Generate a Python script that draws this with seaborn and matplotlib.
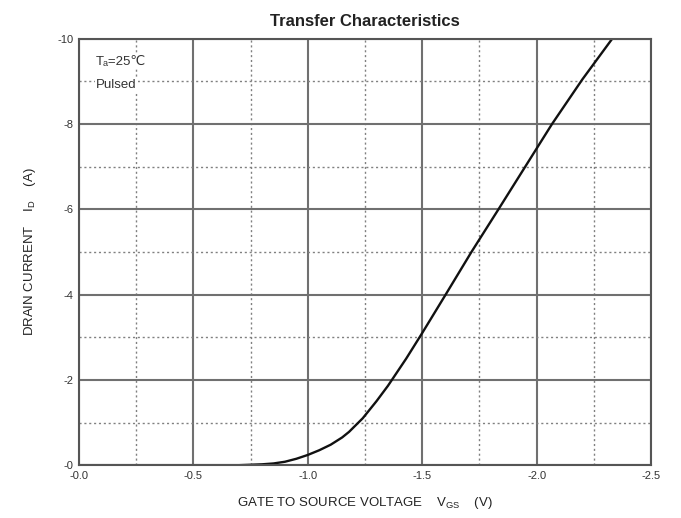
import matplotlib
matplotlib.use("Agg")
import matplotlib.pyplot as plt
from matplotlib.ticker import MultipleLocator
import seaborn as sns
import pandas as pd

# Data (V_GS in volts, I_D in amperes)
vgs = [0.0, -0.5, -0.7, -0.8, -0.85, -0.9, -0.95, -1.0, -1.05, -1.1,
       -1.15, -1.18, -1.24, -1.3, -1.35, -1.43, -1.5, -1.6, -1.715, -1.833,
       -1.95, -2.067, -2.2, -2.33]
id_a = [0.0, 0.0, 0.0, -0.02, -0.04, -0.08, -0.15, -0.24, -0.35, -0.48,
        -0.65, -0.78, -1.1, -1.5, -1.86, -2.5, -3.1, -3.98, -5.0, -6.0,
        -7.0, -8.0, -9.05, -10.0]

x_ticks = [0.0, -0.5, -1.0, -1.5, -2.0, -2.5]
x_ticklabels = ["-0.0", "-0.5", "-1.0", "-1.5", "-2.0", "-2.5"]
y_ticks = [0, -2, -4, -6, -8, -10]
y_ticklabels = ["-0", "-2", "-4", "-6", "-8", "-10"]

title = "Transfer Characteristics"
xlabel = r"GATE TO SOURCE VOLTAGE    V$_{\mathregular{GS}}$    (V)"
ylabel = r"DRAIN CURRENT    I$_{\mathregular{D}}$    (A)"
note1 = "Tₐ=25℃"
note2 = "Pulsed"

sns.set_style("white")
plt.rcParams["font.family"] = ["Liberation Sans", "DejaVu Sans"]

df = pd.DataFrame({"vgs": vgs, "id": id_a})

fig = plt.figure(figsize=(6.81, 5.18), dpi=100)
ax = fig.add_axes([0.116, 0.102, 0.840, 0.823])

sns.lineplot(data=df, x="vgs", y="id", ax=ax, color="#111111", linewidth=1.7)

ax.set_xlim(0, -2.5)
ax.set_ylim(0, -10)
ax.set_xticks(x_ticks)
ax.set_xticklabels(x_ticklabels)
ax.set_yticks(y_ticks)
ax.set_yticklabels(y_ticklabels)
ax.xaxis.set_minor_locator(MultipleLocator(0.25))
ax.yaxis.set_minor_locator(MultipleLocator(1))

ax.grid(which="major", color="#707070", linewidth=1.5, linestyle="-")
ax.grid(which="minor", color="#808080", linewidth=1.0, linestyle=(0, (1.5, 2)))
ax.set_axisbelow(True)
ax.tick_params(which="both", length=0, labelsize=8, colors="#333333", pad=4)
for s in ax.spines.values():
    s.set_color("#555555")
    s.set_linewidth(1.5)

ax.set_xlabel(xlabel, fontsize=9.5, color="#222222", labelpad=10)
ax.set_ylabel(ylabel, fontsize=9.5, color="#222222", labelpad=14)
ax.set_title(title, fontsize=12, fontweight="bold", color="#222222", pad=9)

ax.text(0.03, 0.96, note1, transform=ax.transAxes, fontsize=9.5, color="#333333",
        va="top", ha="left", bbox=dict(facecolor="white", edgecolor="none", pad=1))
ax.text(0.03, 0.905, note2, transform=ax.transAxes, fontsize=9.5, color="#333333",
        va="top", ha="left", bbox=dict(facecolor="white", edgecolor="none", pad=1))

fig.savefig("out.png", dpi=100)
